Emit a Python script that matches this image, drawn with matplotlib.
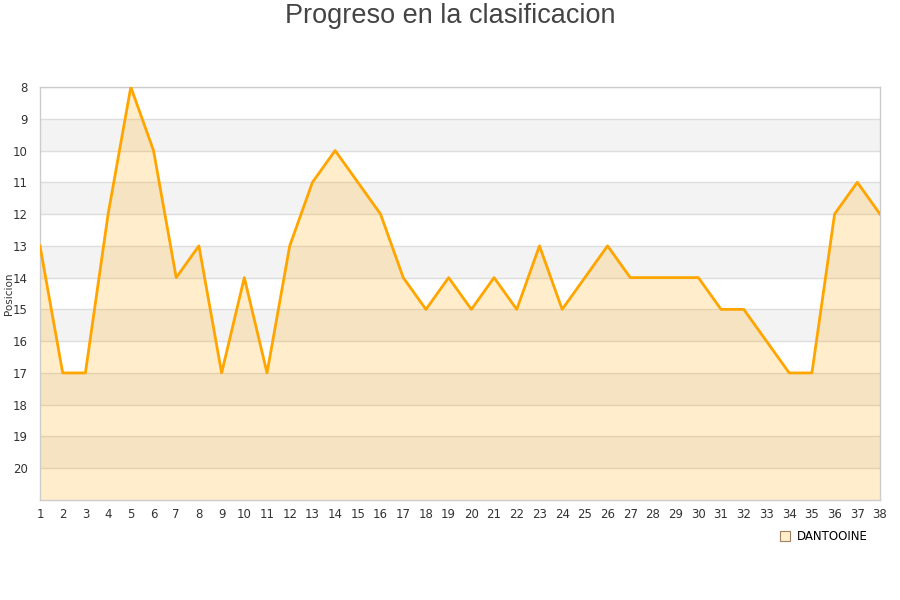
import matplotlib
matplotlib.use("Agg")
import matplotlib.pyplot as plt
from matplotlib.lines import Line2D

jornadas = list(range(1, 39))
posiciones = [13, 17, 17, 12, 8, 10, 14, 13, 17, 14, 17, 13, 11, 10, 11, 12, 14, 15, 14, 15,
              14, 15, 13, 15, 14, 13, 14, 14, 14, 14, 15, 15, 16, 17, 17, 12, 11, 12]
equipo = "DANTOOINE"
titulo = "Progreso en la clasificacion"
ylabel = "Posicion"

fig = plt.figure(figsize=(9, 6), dpi=100)
ax = fig.add_axes([40/900, 1-500/600, 840/900, 413/600])

ymin, ymax = 8, 21
for y in range(ymin, ymax):
    if y % 2 == 1:
        ax.axhspan(y, y+1, color='#f3f3f3', zorder=0, lw=0)
for y in range(ymin, ymax):
    ax.axhline(y, color='#dddddd', lw=1, zorder=1)

ax.fill_between(jornadas, posiciones, ymax, color='#FFA500', alpha=0.2, lw=0, zorder=2)
ax.plot(jornadas, posiciones, color='#FFA500', lw=2, zorder=3)

ax.set_xlim(1, 38)
ax.set_ylim(ymax, ymin)
ax.set_xticks(jornadas)
ax.set_yticks(list(range(8, 21)))
ax.tick_params(axis='both', length=0, labelsize=8.5, colors='#333333')
ax.tick_params(axis='x', pad=6)
ax.tick_params(axis='y', pad=9)
for s in ax.spines.values():
    s.set_color('#cccccc')
    s.set_linewidth(1)
ax.set_ylabel(ylabel, fontsize=7.5, color='#333333')
ax.yaxis.set_label_coords(-26/840, 0.5)

fig.text(0.5, 1-16/600, titulo, ha='center', va='center', fontsize=19.5,
         color='#444444', family='Liberation Sans')

handle = Line2D([], [], marker='s', linestyle='none', markersize=6.5,
                markerfacecolor='#FFEDCC', markeredgecolor='#a08060', markeredgewidth=0.8)
fig.legend([handle], [equipo], loc='center', bbox_to_anchor=(823/900, 1-537/600),
           frameon=False, fontsize=8.5, handletextpad=0.5, handlelength=1)

fig.savefig("out.png", dpi=100)
